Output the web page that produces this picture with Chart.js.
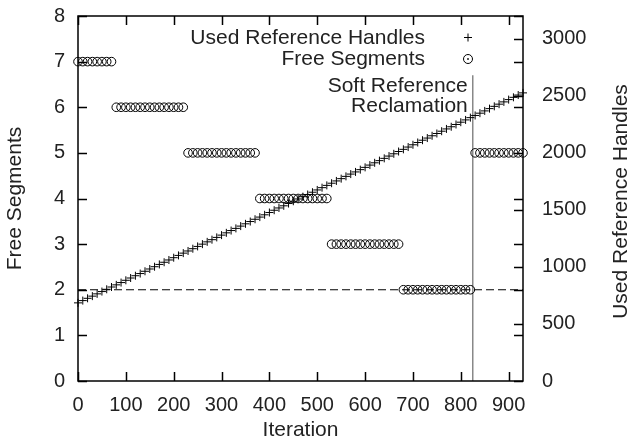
<!DOCTYPE html>
<html>
<head>
<meta charset="utf-8">
<title>Free Segments and Used Reference Handles</title>
<script src="https://cdn.jsdelivr.net/npm/chart.js@4"></script>
<style>
  html, body { margin: 0; padding: 0; background: #fff; }
</style>
</head>
<body>
<canvas id="chart" width="630" height="441"></canvas>
<script>
// Samples taken every 10 iterations
const iterations = [
    0, 10, 20, 30, 40, 50, 60, 70, 80, 90,
    100, 110, 120, 130, 140, 150, 160, 170, 180, 190,
    200, 210, 220, 230, 240, 250, 260, 270, 280, 290,
    300, 310, 320, 330, 340, 350, 360, 370, 380, 390,
    400, 410, 420, 430, 440, 450, 460, 470, 480, 490,
    500, 510, 520, 530, 540, 550, 560, 570, 580, 590,
    600, 610, 620, 630, 640, 650, 660, 670, 680, 690,
    700, 710, 720, 730, 740, 750, 760, 770, 780, 790,
    800, 810, 820, 830, 840, 850, 860, 870, 880, 890,
    900, 910, 920, 930
];

const freeSegments = [
    7, 7, 7, 7, 7, 7, 7, 7,
    6, 6, 6, 6, 6, 6, 6, 6, 6, 6, 6, 6, 6, 6, 6,
    5, 5, 5, 5, 5, 5, 5, 5, 5, 5, 5, 5, 5, 5, 5,
    4, 4, 4, 4, 4, 4, 4, 4, 4, 4, 4, 4, 4, 4, 4,
    3, 3, 3, 3, 3, 3, 3, 3, 3, 3, 3, 3, 3, 3, 3,
    2, 2, 2, 2, 2, 2, 2, 2, 2, 2, 2, 2, 2, 2, 2,
    5, 5, 5, 5, 5, 5, 5, 5, 5, 5, 5
];

const usedHandles = [
    685, 705, 725, 744, 764, 784, 804, 824, 843, 863,
    883, 903, 923, 942, 962, 982, 1002, 1022, 1041, 1061,
    1081, 1101, 1121, 1140, 1160, 1180, 1200, 1220, 1239, 1259,
    1279, 1299, 1319, 1338, 1358, 1378, 1398, 1418, 1437, 1457,
    1477, 1497, 1517, 1536, 1556, 1576, 1596, 1616, 1635, 1655,
    1675, 1695, 1715, 1734, 1754, 1774, 1794, 1814, 1833, 1853,
    1873, 1893, 1913, 1932, 1952, 1972, 1992, 2012, 2031, 2051,
    2071, 2091, 2111, 2130, 2150, 2170, 2190, 2210, 2229, 2249,
    2269, 2289, 2309, 2328, 2348, 2368, 2388, 2408, 2427, 2447,
    2467, 2487, 2507, 2526
];

const xTicks = [0, 100, 200, 300, 400, 500, 600, 700, 800, 900];
const segmentTicks = [0, 1, 2, 3, 4, 5, 6, 7, 8];
const handleTicks = [0, 500, 1000, 1500, 2000, 2500, 3000];

const thresholdSegments = 2;
const reclaimIteration = 825;
const reclaimLineTop = 6.7;

const legendLabels = ['Used Reference Handles', 'Free Segments'];
const reclaimLabel = ['Soft Reference', 'Reclamation'];
const rightAxisTitle = 'Used Reference Handles';

const FONT = '"Liberation Sans", Arial, Helvetica, sans-serif';
const TEXT = '#222';
const TICK_FONT = { family: FONT, size: 20 };
const LABEL_FONT = { family: FONT, size: 21 };

function toPoints(ys) {
    return iterations.map(function(x, i) { return { x: x, y: ys[i] }; });
}

function fixedTicks(values) {
    return function(scale) {
        scale.ticks = values.map(function(v) { return { value: v }; });
    };
}

// plain numbers, no thousands separators
function plain(value) {
    return String(value);
}

// fixed box sizes so the plot frame lands where the original has it
function fitWidth(w) {
    return function(scale) {
        scale.width = w;
        scale.paddingTop = 0;
        scale.paddingBottom = 0;
    };
}

// Inner tick marks, frame, legend, reclaim label and right-hand title
const decorations = {
    id: 'decorations',
    afterDatasetsDraw: function(chart) {
        const ctx = chart.ctx;
        const area = chart.chartArea;
        const xs = chart.scales.x;
        const ys = chart.scales.y;
        const y2 = chart.scales.y2;
        const len = 9;

        ctx.save();
        ctx.strokeStyle = '#000';
        ctx.lineWidth = 1.5;
        ctx.beginPath();
        xTicks.forEach(function(v) {
            const px = Math.round(xs.getPixelForValue(v)) + 0.5;
            ctx.moveTo(px, area.bottom); ctx.lineTo(px, area.bottom - len);
            ctx.moveTo(px, area.top); ctx.lineTo(px, area.top + len);
        });
        segmentTicks.forEach(function(v) {
            const py = Math.round(ys.getPixelForValue(v)) + 0.5;
            ctx.moveTo(area.left, py); ctx.lineTo(area.left + len, py);
            ctx.moveTo(area.right, py); ctx.lineTo(area.right - len, py);
        });
        handleTicks.forEach(function(v) {
            const py = Math.round(y2.getPixelForValue(v)) + 0.5;
            ctx.moveTo(area.right, py); ctx.lineTo(area.right - len, py);
        });
        ctx.stroke();
        ctx.strokeRect(area.left, area.top, area.right - area.left, area.bottom - area.top);

        // legend: text on the left, symbol on the right
        ctx.font = LABEL_FONT.size + 'px ' + FONT;
        ctx.fillStyle = TEXT;
        ctx.textAlign = 'right';
        ctx.textBaseline = 'alphabetic';
        const symX = 468;
        ctx.fillText(legendLabels[0], 425, 44);
        ctx.fillText(legendLabels[1], 425, 65);
        ctx.lineWidth = 1;
        ctx.beginPath();
        ctx.moveTo(symX - 4, 37.5); ctx.lineTo(symX + 4, 37.5);
        ctx.moveTo(symX, 33.5); ctx.lineTo(symX, 41.5);
        ctx.stroke();
        ctx.beginPath();
        ctx.arc(symX, 59, 4.5, 0, Math.PI * 2);
        ctx.stroke();
        ctx.beginPath();
        ctx.arc(symX, 59, 1, 0, Math.PI * 2);
        ctx.fill();

        // label for the vertical reclamation marker
        const lx = xs.getPixelForValue(reclaimIteration) - 5;
        ctx.fillText(reclaimLabel[0], lx, 92);
        ctx.fillText(reclaimLabel[1], lx, 112);

        // right axis title, reading bottom to top
        ctx.translate(621, (area.top + area.bottom) / 2 + 3);
        ctx.rotate(-Math.PI / 2);
        ctx.textAlign = 'center';
        ctx.textBaseline = 'middle';
        ctx.fillText(rightAxisTitle, 0, 0);
        ctx.restore();
    }
};

const ctx = document.getElementById('chart').getContext('2d');
const chart = new Chart(ctx, {
    type: 'scatter',
    data: {
        datasets: [
            {
                label: 'Reclamation',
                data: [{ x: reclaimIteration, y: 0 }, { x: reclaimIteration, y: reclaimLineTop }],
                yAxisID: 'y',
                showLine: true,
                borderColor: '#888',
                borderWidth: 1.5,
                pointRadius: 0,
                order: 4
            },
            {
                label: 'Threshold',
                data: [{ x: 0, y: thresholdSegments }, { x: 930, y: thresholdSegments }],
                yAxisID: 'y',
                showLine: true,
                borderColor: '#000',
                borderWidth: 1,
                borderDash: [8, 4],
                pointRadius: 0,
                order: 3
            },
            {
                label: legendLabels[1],
                data: toPoints(freeSegments),
                yAxisID: 'y',
                pointStyle: 'circle',
                pointRadius: 4.3,
                borderColor: '#000',
                borderWidth: 1,
                backgroundColor: 'rgba(0,0,0,0)',
                clip: false,
                order: 2
            },
            {
                label: legendLabels[0],
                data: toPoints(usedHandles),
                yAxisID: 'y2',
                pointStyle: 'cross',
                pointRadius: 4,
                borderColor: '#000',
                borderWidth: 1,
                clip: false,
                order: 1
            }
        ]
    },
    options: {
        responsive: false,
        animation: false,
        layout: { padding: { top: 16, left: 0, right: 0, bottom: 0 } },
        plugins: {
            legend: { display: false },
            tooltip: { enabled: false }
        },
        scales: {
            x: {
                type: 'linear',
                position: 'bottom',
                min: 0,
                max: 930,
                afterBuildTicks: fixedTicks(xTicks),
                afterFit: function(scale) {
                    scale.height = 60;
                    scale.paddingLeft = 0;
                    scale.paddingRight = 0;
                },
                grid: { display: false, drawTicks: false },
                border: { display: false },
                ticks: { color: TEXT, font: TICK_FONT, padding: 12, maxRotation: 0, callback: plain },
                title: {
                    display: true,
                    text: 'Iteration',
                    color: TEXT,
                    font: LABEL_FONT,
                    padding: { top: 0, bottom: -1.5 }
                }
            },
            y: {
                type: 'linear',
                position: 'left',
                min: 0,
                max: 8,
                afterBuildTicks: fixedTicks(segmentTicks),
                afterFit: fitWidth(78),
                grid: { display: false, drawTicks: false },
                border: { display: false },
                ticks: { color: TEXT, font: TICK_FONT, padding: 13, callback: plain },
                title: {
                    display: true,
                    text: 'Free Segments',
                    color: TEXT,
                    font: LABEL_FONT,
                    padding: { top: 3, bottom: 0 }
                }
            },
            y2: {
                type: 'linear',
                position: 'right',
                min: 0,
                max: 3200,
                afterBuildTicks: fixedTicks(handleTicks),
                afterFit: fitWidth(107),
                grid: { display: false, drawTicks: false },
                border: { display: false },
                ticks: { color: TEXT, font: TICK_FONT, padding: 19, callback: plain }
            }
        }
    },
    plugins: [decorations]
});
</script>
</body>
</html>
